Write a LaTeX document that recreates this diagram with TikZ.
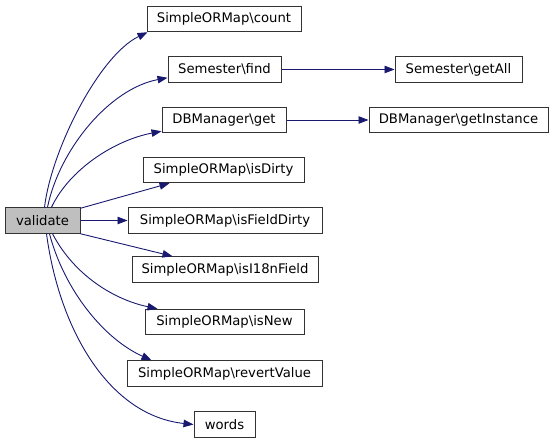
\documentclass[tikz,border=0pt]{standalone}
\usepackage{fontspec}
\setmainfont{DejaVu Sans}
\usetikzlibrary{arrows.meta}
\definecolor{edgeblue}{HTML}{191970}
\definecolor{boxborder}{HTML}{333333}
\begin{document}
\begin{tikzpicture}[x=1pt,y=-1pt,
  fnbox/.style={draw=boxborder,line width=1pt,fill=white,rectangle,inner sep=0pt,
    minimum height=25.5pt,font=\fontsize{13.2}{15}\selectfont},
  mainbox/.style={fnbox,fill=black!25},
  call/.style={draw=edgeblue,line width=0.9pt,-{Triangle[length=10pt,width=7.5pt]},fill=none}]
\useasboundingbox (0,0) rectangle (553,443);
\node[mainbox,minimum width=75pt] (validate) at (42.5,220.5) {validate};
\node[fnbox,minimum width=154pt] (count) at (224,19) {SimpleORMap\textbackslash count};
\node[fnbox,minimum width=113pt] (find) at (224.5,69.5) {Semester\textbackslash find};
\node[fnbox,minimum width=127pt] (getall) at (458.5,69.5) {Semester\textbackslash getAll};
\node[fnbox,minimum width=124pt] (get) at (224,120) {DBManager\textbackslash get};
\node[fnbox,minimum width=179pt] (getinst) at (458.5,120) {DBManager\textbackslash getInstance};
\node[fnbox,minimum width=161pt] (isdirty) at (223.5,170) {SimpleORMap\textbackslash isDirty};
\node[fnbox,minimum width=194pt] (isfield) at (225,220.5) {SimpleORMap\textbackslash isFieldDirty};
\node[fnbox,minimum width=186pt] (isi18n) at (225,269.5) {SimpleORMap\textbackslash isI18nField};
\node[fnbox,minimum width=159pt] (isnew) at (224.5,322) {SimpleORMap\textbackslash isNew};
\node[fnbox,minimum width=195pt] (revert) at (224.5,373.5) {SimpleORMap\textbackslash revertValue};
\node[fnbox,minimum width=61pt] (words) at (224.5,424.5) {words};

\draw[call] ([xshift=40pt]validate.north west) .. controls +(7,-58) and +(-48,23) .. ([xshift=1pt]count.south west);
\draw[call] ([xshift=43pt]validate.north west) .. controls +(12,-58) and +(-58,11) .. ([yshift=5pt]find.south west);
\draw[call] ([xshift=47pt]validate.north west) .. controls +(18,-38) and +(-47,9) .. ([yshift=2pt]get.south west);
\draw[call] ([yshift=-1pt]validate.north east) -- ([xshift=27pt]isdirty.south west);
\draw[call] (validate.east) -- (isfield.west);
\draw[call] (validate.south east) -- ([xshift=41pt]isi18n.north west);
\draw[call] ([xshift=48pt]validate.south west) .. controls +(22,42) and +(-43,-9) .. ([xshift=13pt]isnew.north west);
\draw[call] ([xshift=45pt]validate.south west) .. controls +(15,57) and +(-47,-21) .. ([xshift=25pt]revert.north west);
\draw[call] ([xshift=42pt]validate.south west) .. controls +(13,97) and +(-84,-9) .. (words.west);
\draw[call] (find.east) -- (getall.west);
\draw[call] (get.east) -- (getinst.west);
\end{tikzpicture}
\end{document}
